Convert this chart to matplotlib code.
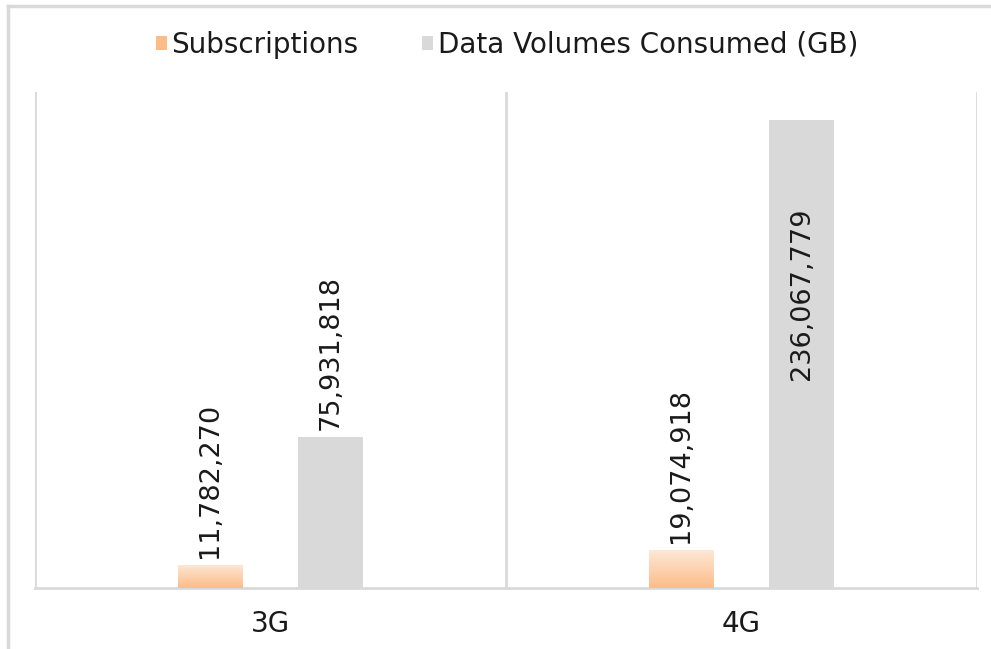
import numpy as np
import matplotlib
matplotlib.use("Agg")
import matplotlib.pyplot as plt
from matplotlib.lines import Line2D

# data
categories = ["3G", "4G"]
subscriptions = [11782270, 19074918]
data_volumes = [75931818, 236067779]
series_names = ["Subscriptions", "Data Volumes Consumed (GB)"]

grid_col = "#d9d9d9"
text_col = "#1a1a1a"
orange_top = np.array([253, 232, 215]) / 255
orange_bot = np.array([252, 188, 136]) / 255
gray = "#d9d9d9"

plt.rcParams["font.family"] = ["DejaVu Sans"]

fig = plt.figure(figsize=(9.91, 6.49), dpi=100)
ax = fig.add_axes([35 / 991, 1 - 588 / 649, 942 / 991, 496 / 649])

x = np.arange(len(categories))
w = 0.138
off = 0.128
ymax = 250000000

# gradient image for the orange bars
grad = np.linspace(0, 1, 256)[:, None]
grad_img = orange_top[None, None, :] * (1 - grad[..., None]) + orange_bot[None, None, :] * grad[..., None]

bars1 = ax.bar(x - off, subscriptions, w, color=orange_bot, label=series_names[0], zorder=2)
bars2 = ax.bar(x + off, data_volumes, w, color=gray, label=series_names[1], zorder=2)

for b in bars1:
    x0, y0 = b.get_x(), b.get_y()
    im = ax.imshow(grad_img, extent=[x0, x0 + b.get_width(), y0, y0 + b.get_height()],
                   aspect="auto", origin="upper", zorder=3)
    im.set_clip_path(b)

for bars, vals in [(bars1, subscriptions), (bars2, data_volumes)]:
    for b, v in zip(bars, vals):
        if v > 0.6 * ymax:
            # label doesn't fit above the bar, so it goes inside like in Excel
            xy_off, va = (0, -63), "top"
        else:
            xy_off, va = (0, 5), "bottom"
        ax.annotate(f"{v:,}", (b.get_x() + b.get_width() / 2, b.get_height()),
                    xytext=xy_off, textcoords="offset points", rotation=90,
                    ha="center", va=va, fontsize=19.5, color=text_col, zorder=4)

ax.set_xlim(-0.5, 1.5)
ax.set_ylim(0, ymax)
for xv in [-0.5, 0.5, 1.5]:
    ax.axvline(xv, color=grid_col, lw=2, zorder=1)

ax.set_yticks([])
ax.set_xticks(x)
ax.set_xticklabels(categories, fontsize=20, color=text_col)
ax.tick_params(axis="x", length=0, pad=16)
for s in ["top", "left", "right"]:
    ax.spines[s].set_visible(False)
ax.spines["bottom"].set_color(grid_col)
ax.spines["bottom"].set_linewidth(2)
ax.patch.set_alpha(0)

leg = fig.legend(handles=[bars1, bars2], labels=series_names, loc="center",
                 bbox_to_anchor=(507 / 991, 1 - 45 / 649), ncol=2, frameon=False,
                 fontsize=20, handlelength=0.4, handleheight=0.4, handletextpad=0.15,
                 columnspacing=2.3, labelcolor=text_col)

# outer chart border (partly cropped in the original)
fig.add_artist(Line2D([8 / 991, 1], [1 - 6 / 649, 1 - 6 / 649], color=grid_col, lw=2.5))
fig.add_artist(Line2D([8 / 991, 8 / 991], [0, 1 - 6 / 649], color=grid_col, lw=2.5))

fig.savefig("out.png", dpi=100)
